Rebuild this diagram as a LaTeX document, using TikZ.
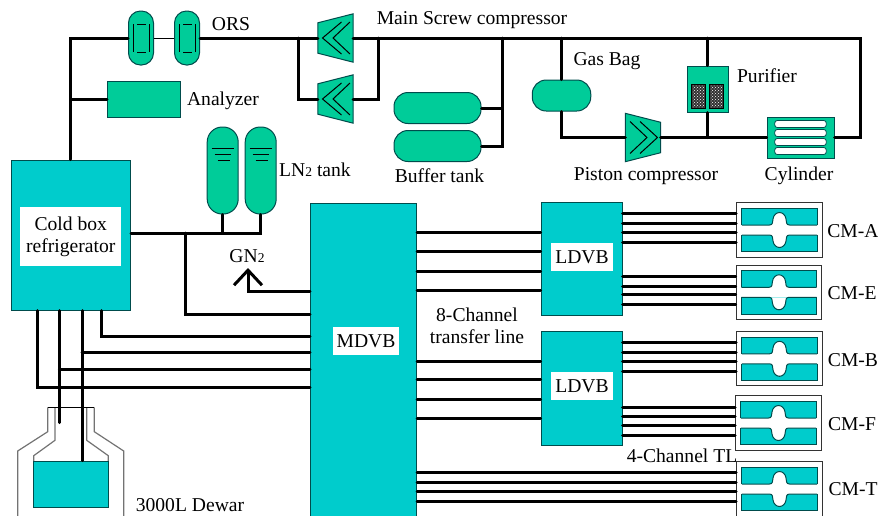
\documentclass[tikz,border=0pt]{standalone}
\usepackage{fontspec}
\setmainfont{Liberation Serif}
\usepackage{xcolor}
\usetikzlibrary{arrows.meta,patterns}
\definecolor{boxteal}{HTML}{00CCCC}
\definecolor{tankgreen}{HTML}{00CC99}
\definecolor{edgeteal}{HTML}{004C4C}
\newcommand{\smalltwo}{{\fontsize{13.5}{14}\selectfont 2}}
\tikzset{
  lab/.style={inner sep=0pt, align=center, font=\fontsize{19.6}{22}\selectfont},
  wlab/.style={lab, fill=white, inner xsep=4pt, minimum height=28pt},
  pipe/.style={line width=3pt, line cap=round},
  thin pipe/.style={line width=1pt, black},
  vdb/.style={draw=edgeteal, line width=1pt, fill=boxteal, inner sep=0pt},
  vessel/.style={draw=edgeteal, line width=1pt, fill=tankgreen, inner sep=0pt, rounded corners=14pt},
  plant/.style={draw=edgeteal, line width=1pt, fill=tankgreen, inner sep=0pt},
  compr/.style={inner sep=0pt, minimum width=35pt, minimum height=48pt},
  cmbox/.style={draw=black!80, line width=1pt, fill=white, minimum width=85.6pt, minimum height=54.3pt, inner sep=0pt},
}
\begin{document}
\begin{tikzpicture}[x=1pt,y=-1pt]
\path[use as bounding box, clip] (0,0) rectangle (878,515);

% helium recovery side
\node[vessel, minimum width=25pt, minimum height=54pt, rounded corners=12pt] (orsa) at (141,38) {};
\node[vessel, minimum width=25pt, minimum height=54pt, rounded corners=12pt] (orsb) at (187,38) {};
\foreach \n in {orsa,orsb}{
  \draw[thin pipe] ([shift={(-8,-14)}]\n.center) -- ([shift={(-8,14)}]\n.center);
  \draw[thin pipe] ([shift={(8.5,-14)}]\n.center) -- ([shift={(8.5,14)}]\n.center);
  \draw[thin pipe] ([shift={(-4,-14)}]\n.center) -- ([shift={(5,-14)}]\n.center);
  \draw[thin pipe] ([shift={(-4,14)}]\n.center) -- ([shift={(5,14)}]\n.center);
}
\node[plant, minimum width=73pt, minimum height=36pt] (ana) at (144,99) {};
\node[compr] (scra) at (335.5,38) {};
\node[compr] (scrb) at (335.5,99) {};
\node[compr] (pis) at (643,137.5) {};
\foreach \n/\a/\b in {scra/9/0,scrb/9/0,pis/0/9}{
  \draw[plant] ([shift={(0,\a)}]\n.north west) -- ([shift={(0,\b)}]\n.north east) -- ([shift={(0,-\b)}]\n.south east) -- ([shift={(0,-\a)}]\n.south west) -- cycle;
}
\foreach \n in {scra,scrb}{
  \draw[thin pipe] ([shift={(6,-16)}]\n.center) -- ([shift={(-13,0)}]\n.center) -- ([shift={(6,16)}]\n.center);
  \draw[thin pipe] ([shift={(14.5,-16)}]\n.center) -- ([shift={(-2.5,0)}]\n.center) -- ([shift={(14.5,16)}]\n.center);
}
\draw[thin pipe] ([shift={(-13,-16)}]pis.center) -- ([shift={(4,0)}]pis.center) -- ([shift={(-13,16)}]pis.center);
\draw[thin pipe] ([shift={(-3,-16)}]pis.center) -- ([shift={(14.5,0)}]pis.center) -- ([shift={(-3,16)}]pis.center);
\node[vessel, minimum width=87pt, minimum height=31pt] (bufa) at (437.5,108) {};
\node[vessel, minimum width=87pt, minimum height=31pt] (bufb) at (437.5,146) {};
\node[vessel, minimum width=58.5pt, minimum height=31pt] (bag) at (561.5,95.5) {};
\node[plant, minimum width=41pt, minimum height=46pt] (pur) at (707.5,89) {};
\foreach \x in {-9.5,9}{
  \node[draw=black, preaction={fill=black!80}, pattern=crosshatch dots, pattern color=white, minimum width=14pt, minimum height=24pt, inner sep=0pt] at ([shift={(\x,7)}]pur.center) {};
}
\node[plant, minimum width=67pt, minimum height=41pt] (cyl) at (800.5,137.5) {};
\foreach \y in {-13.5,-4.5,4.5,13.5}{
  \node[draw=edgeteal, line width=.8pt, fill=white, rounded corners=2.5pt, minimum width=51.5pt, minimum height=7pt, inner sep=0pt] at ([shift={(0,\y)}]cyl.center) {};
}

% cold end
\node[vdb, minimum width=119.5pt, minimum height=150pt] (cold) at (70.75,235) {};
\node[vessel, minimum width=31pt, minimum height=87pt, rounded corners=15pt] (lna) at (222.7,170.5) {};
\node[vessel, minimum width=31pt, minimum height=87pt, rounded corners=15pt] (lnb) at (260.7,170.5) {};
\foreach \n in {lna,lnb}{
  \draw[thin pipe] ([shift={(-11,-22.5)}]\n.center) -- ([shift={(11,-22.5)}]\n.center);
  \draw[thin pipe] ([shift={(-8,-16.5)}]\n.center) -- ([shift={(8,-16.5)}]\n.center);
  \draw[thin pipe] ([shift={(-5,-10)}]\n.center) -- ([shift={(7,-10)}]\n.center);
}
\node[vdb, minimum width=106pt, minimum height=357pt] (mdvb) at (363.5,381.5) {};
\node[vdb, minimum width=81pt, minimum height=113.5pt] (ldvba) at (581.5,259) {};
\node[vdb, minimum width=81pt, minimum height=114pt] (ldvbb) at (581.5,388) {};

% cryomodules
\foreach \n/\x/\y in {cma/779.5/230,cme/779/292.3,cmb/779.5/358.8,cmf/778.5/423,cmt/779.5/489}{
  \node[cmbox] (\n) at (\x,\y) {};
  \begin{scope}[shift={(\x,\y)}]
    \node[vdb, minimum width=75.4pt, minimum height=43.4pt] at (0,0) {};
    \fill[white] (-38.5,-5) rectangle (38.5,5);
    \foreach \s in {1,-1}{
      \draw[draw=edgeteal, line width=1pt, fill=white, yscale=\s] (-37.7,-5) -- (-10,-5) .. controls (-6.5,-5) and (-7,-8) .. (-6.5,-11) .. controls (-6,-15) and (-3,-17.5) .. (0,-17.5) .. controls (3,-17.5) and (6,-15) .. (6.5,-11) .. controls (7,-8) and (6.5,-5) .. (10,-5) -- (37.7,-5);
    }
  \end{scope}
}

% dewar
\draw[black!55, line width=1.2pt] (47.7,407.3) -- (47.7,431.7) -- (17.7,451) -- (17.7,520);
\draw[black!55, line width=1.2pt] (94.3,407.3) -- (94.3,431.7) -- (123.7,451) -- (123.7,520);
\draw[black!55, line width=1.2pt] (55,407.3) -- (55,440.3) -- (33.7,455.7) -- (33.7,507);
\draw[black!55, line width=1.2pt] (86.7,407.3) -- (86.7,440.3) -- (108.3,455.7) -- (108.3,507);
\draw[black, line width=.8pt] (47.7,407.3) -- (94.3,407.3);
\node[vdb, minimum width=74.6pt, minimum height=46pt] (liq) at (71,484) {};

% warm piping
\coordinate (ja) at (298,38);
\coordinate (jb) at (378,38);
\coordinate (jc) at (502,38);
\coordinate (cor) at (860,137.5);
\coordinate (jd) at (185.3,233);
\coordinate (gnend) at (248,268);
\draw[pipe] (cold.north) |- (orsa.west);
\draw[thin pipe] (orsa.east) -- (orsb.west);
\draw[pipe] (orsb.east) -- (scra.west);
\draw[pipe] (cold.north |- ana.west) -- (ana.west);
\draw[pipe] (ja) |- (scrb.west);
\draw[pipe] (jb) |- (scrb.east);
\draw[pipe] (scra.east) -| (cor) -- (cyl.east);
\draw[pipe] (jc) |- (bufb.east);
\draw[pipe] (bufa.east) -- (bufa.east -| jc);
\draw[pipe] (bag.north |- jc) -- (bag.north);
\draw[pipe] (bag.south) |- (pis.west);
\draw[pipe] (pis.east) -- (cyl.west);
\draw[pipe] (pur.north |- jc) -- (pur.north);
\draw[pipe] (pur.south) -- (pur.south |- cyl.west);

% cold piping
\draw[pipe] (cold.east |- jd) -| (lnb.south);
\draw[pipe] (lna.south) -- (lna.south |- jd);
\draw[pipe] (jd) |- (mdvb.west |- 0,314);
\draw[pipe, -{Straight Barb[length=15pt,width=28pt]}] (mdvb.west |- 0,291) -| (gnend);
\foreach \d/\y in {-33.75/387,30.55/336}{
  \draw[pipe] ([xshift=\d]cold.south) |- (mdvb.west |- 0,\y);
}
\draw[pipe] ([xshift=-11.45]cold.south) -- ([xshift=-11.45]cold.south |- 0,422.7);
\draw[pipe] ([xshift=11.25]cold.south) -- ([xshift=11.25]cold.south |- liq.north);
\draw[pipe] ([xshift=-11.45]cold.south |- 0,369.3) -- (mdvb.west |- 0,369.3);
\draw[pipe] ([xshift=11.25]cold.south |- 0,352.7) -- (mdvb.west |- 0,352.7);
\foreach \y in {232.5,251,271,290}{\draw[pipe] (mdvb.east |- 0,\y) -- (ldvba.west |- 0,\y);}
\foreach \y in {361,379.7,399.7,418.7}{\draw[pipe] (mdvb.east |- 0,\y) -- (ldvbb.west |- 0,\y);}
\foreach \y in {213.7,223.3,232.7,242.7}{\draw[pipe] (ldvba.east |- 0,\y) -- (cma.west |- 0,\y);}
\foreach \y in {276.3,286,294.7,304.7}{\draw[pipe] (ldvba.east |- 0,\y) -- (cme.west |- 0,\y);}
\foreach \y in {342.7,352.3,361,371}{\draw[pipe] (ldvbb.east |- 0,\y) -- (cmb.west |- 0,\y);}
\foreach \y in {407,416.7,425.7,435.3}{\draw[pipe] (ldvbb.east |- 0,\y) -- (cmf.west |- 0,\y);}
\foreach \y in {472.3,482.3,491.3,501.3}{\draw[pipe] (mdvb.east |- 0,\y) -- (cmt.west |- 0,\y);}

% labels
\node[lab] (orslab) at (231,24) {ORS};
\node[lab] (scrlab) at (472,20) {Main Screw compressor};
\node[lab] (analab) at (223,101) {Analyzer};
\node[lab] (lnlab) at (315,170) {LN\smalltwo{} tank};
\node[lab] (buflab) at (439.5,176) {Buffer tank};
\node[lab] (baglab) at (607,61) {Gas Bag};
\node[lab] (purlab) at (767,76) {Purifier};
\node[lab] (pislab) at (646,176) {Piston compressor};
\node[lab] (cyllab) at (799,176) {Cylinder};
\node[wlab, minimum width=101pt, minimum height=59pt] (coldlab) at (70.8,236.5) {Cold box\\refrigerator};
\node[lab] (gnlab) at (247,256) {GN\smalltwo};
\node[wlab] (mdvblab) at (366,341) {MDVB};
\node[wlab] (ldvbalab) at (582,257) {LDVB};
\node[wlab] (ldvbblab) at (582,386) {LDVB};
\node[lab] (eightlab) at (477,326) {8-Channel\\transfer line};
\node[lab] (fourlab) at (682,456) {4-Channel TL};
\node[lab] (dewlab) at (190,505) {3000L Dewar};
\foreach \t/\x/\y in {CM-A/853/231,CM-E/852/293,CM-B/853/360,CM-F/852/424,CM-T/853/489}{
  \node[lab] at (\x,\y) {\t};
}
\end{tikzpicture}
\end{document}
